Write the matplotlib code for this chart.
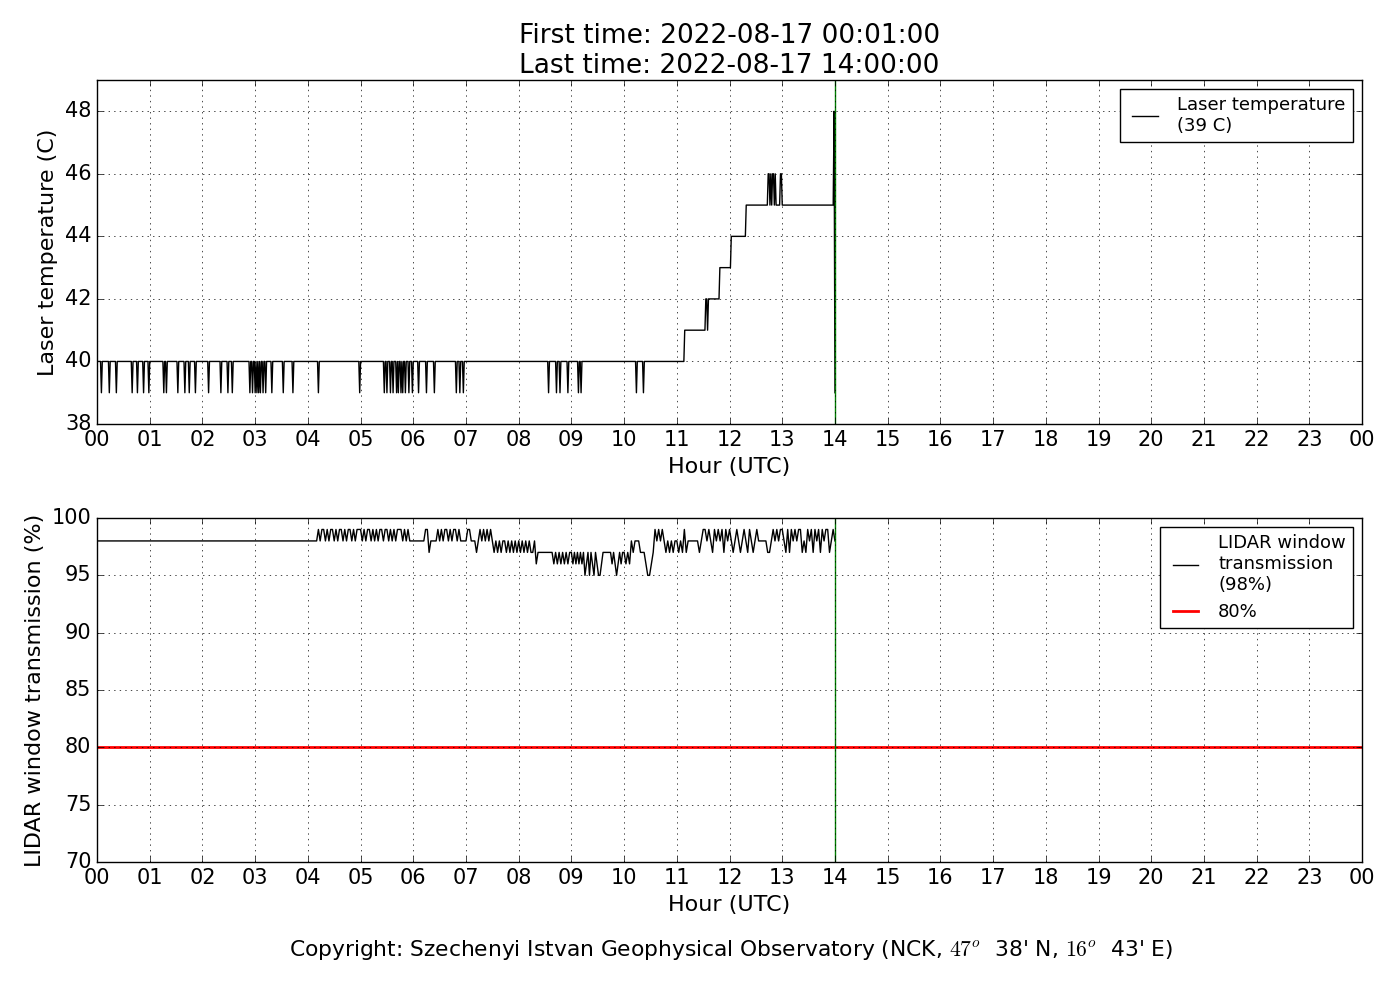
import numpy as np
import matplotlib.pyplot as plt

plt.style.use('classic')
plt.rcParams['figure.facecolor'] = 'white'
plt.rcParams['savefig.facecolor'] = 'white'

first_time = "2022-08-17 00:01:00"
last_time = "2022-08-17 14:00:00"

# laser temperature: level changes (HH:MM) and the level held from there on
temp_steps = ["00:01", "11:09", "11:33", "11:49", "12:02", "12:19", "13:59", "14:00"]
temp_levels = [40, 41, 42, 43, 44, 45, 48, 39]
# single minutes where the temperature dropped to 39 C
temp_drops = ["00:05", "00:14", "00:22", "00:40", "00:46", "00:53", "00:59",
              "01:16", "01:19", "01:32", "01:40", "01:45", "01:52", "02:07",
              "02:21", "02:29", "02:34", "02:54", "02:57", "03:00", "03:02",
              "03:04", "03:06", "03:09", "03:12", "03:19", "03:32", "03:43",
              "04:12", "04:59", "05:27", "05:30", "05:34", "05:37", "05:41",
              "05:43", "05:46", "05:48", "05:51", "05:55", "05:59", "06:06",
              "06:15", "06:24", "06:49", "06:53", "06:57", "08:34", "08:43",
              "08:47", "08:56", "09:08", "09:11", "10:14", "10:22"]
# single minutes at 46 C
temp_jumps = ["12:44", "12:45", "12:47", "12:49", "12:50", "12:52", "12:58", "12:59"]
# single minutes back at 41 C
temp_back = ["11:35"]

# LIDAR window transmission, one digit per sample (value - 90), one string per hour
trans_hours = [
    "888888888888",
    "888888888888",
    "888888888888",
    "888888888888",
    "888888989989899898998989989899",
    "989899898989989989898999898988",
    "888888899788889898998989989888",
    "899888789898989878787887878787",
    "878787877867777777776767676767",
    "76767676756757657655677777767656767",
    "76768788877765567989898787878",
    "8787978888887899898798989798",
    "98789878987987898888877898989",
    "98797989899787989798979899789",
]
trans_last = 98
threshold = 80
now_hour = 14.0


def to_min(s):
    h, m = s.split(':')
    return int(h) * 60 + int(m)


minutes = np.arange(1, 14 * 60 + 1)
step_min = np.array([to_min(s) for s in temp_steps])
temp = np.array(temp_levels)[np.searchsorted(step_min, minutes, side='right') - 1].astype(float)
for s in temp_drops:
    temp[minutes == to_min(s)] = 39
for s in temp_jumps:
    temp[minutes == to_min(s)] = 46
for s in temp_back:
    temp[minutes == to_min(s)] = 41
t_temp = minutes / 60.0

t_tr, v_tr = [], []
for h, code in enumerate(trans_hours):
    for i, c in enumerate(code):
        t_tr.append(h + i / len(code))
        v_tr.append(90 + int(c))
t_tr.append(now_hour)
v_tr.append(trans_last)

fig = plt.figure(figsize=(14, 10), dpi=100)
ax1 = fig.add_axes([0.0693, 0.576, 0.9036, 0.344])
ax2 = fig.add_axes([0.0693, 0.138, 0.9036, 0.344])

hours = list(range(25))
hour_labels = [f"{h % 24:02d}" for h in hours]

ax1.plot(t_temp, temp, 'k-', lw=1, label=f'Laser temperature\n({temp_levels[-1]} C)')
ax1.axvline(now_hour, color='g', lw=1)
ax1.set_ylim(38, 49)
ax1.set_yticks(range(38, 49, 2))
ax1.set_ylabel('Laser temperature (C)', fontsize=16)
ax1.set_title(f"First time: {first_time}\nLast time: {last_time}", fontsize=19)
ax1.legend(loc='upper right', fontsize=13)

ax2.plot(t_tr, v_tr, 'k-', lw=1, label=f'LIDAR window\ntransmission\n({trans_last}%)')
ax2.axhline(threshold, color='r', lw=2, label=f'{threshold}%')
ax2.axvline(now_hour, color='g', lw=1)
ax2.set_ylim(70, 100)
ax2.set_yticks(range(70, 101, 5))
ax2.set_ylabel('LIDAR window transmission (%)', fontsize=16)
ax2.legend(loc='upper right', fontsize=13)

for ax in (ax1, ax2):
    ax.set_xlim(0, 24)
    ax.set_xticks(hours)
    ax.set_xticklabels(hour_labels)
    ax.set_xlabel('Hour (UTC)', fontsize=16)
    ax.tick_params(labelsize=15)
    ax.grid(True)
    ax.set_axisbelow(False)

fig.text(0.522, 0.05, "Copyright: Szechenyi Istvan Geophysical Observatory "
         "(NCK, $47^o$  38' N, $16^o$  43' E)", ha='center', va='center', fontsize=15.7)

fig.savefig('out.png', dpi=100)
